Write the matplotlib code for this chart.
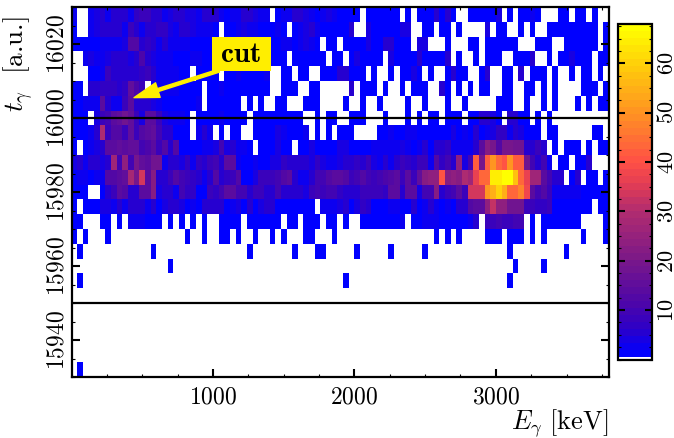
#!/usr/bin/env python3
"""E_gamma vs t_gamma matrix with the time cut, read off the published figure."""

import matplotlib
matplotlib.use('Agg')
import matplotlib.pyplot as plt
import numpy as np
from matplotlib.colors import BoundaryNorm, LinearSegmentedColormap
from matplotlib.patches import Rectangle
from matplotlib.ticker import MultipleLocator

# ---------------------------------------------------------------------
# DATA: counts per 40 keV bin, rows run from late times down, 4 a.u. wide
# ---------------------------------------------------------------------
E_EDGES = np.arange(0, 3801, 40)
T_EDGES = np.arange(16030, 15929, -4)
E_TICKS = [1000, 2000, 3000]

row_16028 = [3,0,0,3,4,5,2,6,6,6, 2,7,8,8,6,6,2,4,5,6, 4,4,3,5,6,5,3,1,2,2, 6,5,4,3,3,0,1,2,2,6, 5,4,2,1,3,4,2,
             1,1,1,1,0,1,1,1,1,1,1,0,1,0,1,1,1,5,1,6,1,0,0,1,1,1,1,1,4,0,1,0,1,1,3,1,0,0,0,1,1,0,1,1,0,1,0,0]
row_16024 = [1,0,0,2,4,6,6,5,6,3, 9,5,2,5,6,7,7,4,3,6, 6,4,3,3,2,1,0,1,1,2, 4,3,2,1,1,1,2,1,0,1, 2,4,5,3,1,1,1,
             1,1,5,0,0,4,1,1,1,1,1,4,4,0,0,1,1,0,1,1,0,1,0,0,0,0,4,0,1,1,0,0,1,0,1,0,0,1,1,1,1,1,1,1,1,1,0,1]
row_16020 = [1,1,1,1,1,3,2,3,3,4, 12,13,6,7,5,2,5,3,2,3, 2,1,1,1,1,2,2,1,1,1, 1,2,3,1,1,1,1,2,2,1, 2,4,3,1,0,1,1,
             0,1,1,1,1,4,1,1,5,5,1,1,1,0,4,4,0,0,0,1,0,0,0,1,1,0,1,1,1,1,1,1,0,0,0,1,1,1,0,0,1,1,1,1,1,1,0,1]
row_16016 = [0,0,2,4,3,3,4,5,5,6, 4,6,11,5,4,3,2,2,1,1, 1,2,2,1,1,1,1,1,1,1, 1,1,1,1,1,1,1,1,0,1, 1,1,1,1,1,0,1,
             1,0,1,4,1,1,1,1,0,4,1,1,1,1,5,1,1,1,1,5,0,1,0,0,1,0,1,1,1,0,0,1,1,1,5,0,0,1,0,1,1,4,1,1,1,0,1,1]
row_16012 = [0,0,0,1,1,2,8,6,5,6, 5,5,7,8,6,3,2,2,2,1, 1,0,1,1,1,1,0,1,1,2, 1,1,1,1,2,0,0,1,1,0, 1,1,0,0,1,1,1,
             5,5,1,1,1,0,1,0,0,1,0,1,1,4,1,0,1,0,0,1,5,1,1,0,0,1,5,0,0,1,1,0,5,0,1,1,1,0,1,0,0,1,0,1,1,0,1,0]
row_16008 = [1,1,0,5,6,7,7,7,6,7, 15,11,8,0,3,3,2,2,2,1, 1,1,1,0,1,1,2,1,1,1, 1,1,1,1,1,0,0,1,1,1, 0,0,1,1,0,0,0,
             0,0,5,0,1,1,1,0,1,0,0,1,0,1,1,1,0,0,5,1,0,1,0,1,0,1,1,0,0,1,1,0,0,1,1,0,1,0,1,0,0,0,0,1,1,1,0,1]
row_16004 = [1,1,3,3,2,14,5,3,2,8, 14,6,5,5,4,2,1,1,1,1, 1,1,2,0,1,1,1,1,1,1, 0,1,0,1,0,0,1,1,0,0, 0,1,1,1,0,0,0,
             0,1,0,0,1,0,0,1,0,0,0,0,1,0,0,1,0,0,0,1,0,0,1,0,0,0,0,0,1,1,1,0,0,1,0,0,1,0,1,0,0,0,1,0,1,0,1,1]
row_16000 = [1,1,1,0,4,8,10,14,16,18, 16,8,4,14,14,8,4,3,2,2, 1,0,1,1,1,1,2,1,1,1, 1,0,1,1,1,1,1,1,1,1, 1,0,0,1,0,1,1,
             0,0,1,1,1,0,0,0,1,0,0,0,1,0,1,0,1,1,0,1,1,1,0,1,1,5,6,4,1,0,5,5,1,1,0,1,0,1,0,0,0,0,0,0,0,0,0,0]
row_15996 = [1,1,1,3,6,30,8,12,12,8, 16,8,12,14,15,10,6,6,1,1, 1,0,2,5,3,0,1,0,1,1, 0,0,1,1,1,1,4,2,1,1, 1,2,0,1,0,1,0,
             1,1,1,0,0,0,0,1,1,3,1,1,3,2,1,1,1,1,1,1,4,1,2,1,6,1,3,4,7,7,2,5,4,1,1,1,0,1,1,0,0,0,0,0,0,1,1,0]
row_15992 = [1,0,1,3,4,6,14,14,16,14, 16,16,10,11,14,8,12,5,12,1, 1,1,1,3,3,4,10,4,6,3, 2,1,0,1,1,1,4,1,1,0, 1,1,4,1,1,1,1,
             4,4,1,1,1,1,3,3,2,3,3,4,2,1,3,5,1,6,6,7,2,2,3,3,5,14,22,20,12,20,20,18,18,6,6,8,5,0,1,0,1,1,1,0,1,0,1,1]
row_15988 = [4,5,2,6,6,4,6,26,10,24, 10,20,16,14,18,18,3,6,6,4, 7,2,7,5,8,10,6,14,14,3, 1,1,2,1,1,4,4,7,6,6, 6,6,4,7,4,3,3,
             4,6,6,7,6,8,4,3,5,3,6,9,7,5,9,9,3,12,7,10,5,24,4,10,42,20,42,50,43,40,50,42,42,18,10,5,10,2,0,1,1,0,1,1,6,0,0,0]
row_15984 = [1,3,2,1,3,3,12,12,14,16, 28,20,34,14,22,6,6,8,12,10, 8,7,6,2,5,13,6,7,8,12, 1,1,4,8,9,8,10,12,14,6, 3,2,5,10,10,12,14,
             14,12,8,10,12,10,9,10,11,13,14,9,14,8,16,22,24,24,40,22,24,22,30,26,36,44,44,64,64,68,68,58,44,36,26,26,14,10,6,6,0,1,6,0,1,1,0,1]
row_15980 = [1,1,1,0,0,1,6,8,14,12, 6,6,14,14,22,4,5,5,3,10, 7,7,1,1,9,7,10,14,14,10, 10,5,9,8,6,6,10,5,5,5, 6,4,9,10,8,10,10,
             7,6,6,5,9,9,9,8,7,14,14,6,14,14,4,10,10,22,6,8,10,14,8,34,34,34,50,54,60,54,43,43,48,38,14,10,12,8,3,3,2,2,2,1,1,1,1,1]
row_15976 = [1,0,1,1,1,4,4,3,6,2, 5,6,6,2,5,1,4,5,5,4, 1,2,1,5,5,6,6,1,3,4, 1,5,1,4,5,6,1,1,1,1, 1,1,1,0,2,2,3,
             4,6,1,4,7,6,1,1,1,3,2,1,1,6,1,2,5,3,1,3,1,5,5,12,14,14,24,32,24,24,18,18,18,8,8,7,7,8,1,1,1,1,1,1,1,0,1,1]
row_15972 = [1,1,0,0,0,1,1,0,1,0, 3,3,2,1,1,1,0,1,0,1, 0,1,0,1,0,0,1,1,1,1, 0,1,1,1,1,1,1,0,1,1, 0,1,1,1,0,1,1,
             0,1,0,0,1,1,1,1,1,1,1,3,0,1,1,2,3,3,1,1,1,1,1,2,6,0,8,8,10,8,8,10,10,0,1,0,1,1,1,1,1,1,1,0,0,0,0,1]
upper_rows = [row_16028, row_16024, row_16020, row_16016, row_16012, row_16008, row_16004, row_16000,
              row_15996, row_15992, row_15988, row_15984, row_15980, row_15976, row_15972]

# the sparse rows underneath only have single counts, listed as bin numbers
bins_15968 = [0,2,6,20,23,26,27,29,32,35,37,41,42,46,64,66,68,73,74,75,77,78,79,81,83,90,94]
bins_15964 = [1,14,31,39,43,44,50,56,62,77,87]
bins_15960 = [17,78,83]
bins_15956 = [1,48,77]
bins_15952 = []
bins_15948 = []
bins_15944 = []
bins_15940 = []
bins_15936 = []
bins_15932 = [1]
lower_rows = [bins_15968, bins_15964, bins_15960, bins_15956, bins_15952,
              bins_15948, bins_15944, bins_15940, bins_15936, bins_15932]

CUT_TIMES = [16000, 15950]

# palette as sampled from the colour bar
CBAR_VALUES = [0, 5, 10, 20, 30, 35, 40, 50, 60, 68]
CBAR_COLORS = ['#0000ff', '#2d00c8', '#4b05aa', '#7d1987', '#b42d6e', '#e13c55',
               '#ff5046', '#ff9123', '#ffcd0a', '#ffff00']

Z_MAX = 68
N_LEVELS = 48

plt.rcParams['font.family'] = ['cmr10', 'DejaVu Sans']
plt.rcParams['mathtext.fontset'] = 'cm'
plt.rcParams['axes.formatter.use_mathtext'] = True
plt.rcParams['axes.unicode_minus'] = False


def build_matrix():
    z = np.zeros((len(T_EDGES) - 1, len(E_EDGES) - 1))
    for i, row in enumerate(upper_rows):
        z[i, :] = row
    for i, bins in enumerate(lower_rows):
        z[len(upper_rows) + i, bins] = 1
    return z


def build_palette():
    pos = [v / Z_MAX for v in CBAR_VALUES]
    base = LinearSegmentedColormap.from_list('pal', list(zip(pos, CBAR_COLORS)))
    cols = [base(k / (N_LEVELS - 1)) for k in range(N_LEVELS)]
    cols.insert(0, (1, 1, 1, 1))
    bounds = np.concatenate(([0, 0.5], np.linspace(2, Z_MAX, N_LEVELS)))
    cmap = matplotlib.colors.ListedColormap(cols)
    return cmap, BoundaryNorm(bounds, cmap.N)


def main():
    w, h = 674, 438
    fig = plt.figure(figsize=(w / 100, h / 100), dpi=100)
    ax = fig.add_axes([71.5 / w, 1 - 377 / h, 537.5 / w, 370 / h])
    cax = fig.add_axes([618 / w, 1 - 359.5 / h, 33.5 / w, 335.5 / h])

    cmap, norm = build_palette()
    mesh = ax.pcolormesh(E_EDGES, T_EDGES, build_matrix(), cmap=cmap, norm=norm,
                         shading='flat', antialiased=False, rasterized=True)
    for t in CUT_TIMES:
        ax.axhline(t, color='black', linewidth=1.6, zorder=3)

    ax.set_xlim(0, 3800)
    ax.set_ylim(15930, 16030)
    ax.set_xticks(E_TICKS)
    ax.xaxis.set_minor_locator(MultipleLocator(250))
    ax.yaxis.set_major_locator(MultipleLocator(20))
    ax.yaxis.set_minor_locator(MultipleLocator(5))
    ax.tick_params(which='major', direction='in', top=True, right=True, length=6, width=1.5,
                   labelsize=17)
    ax.tick_params(which='minor', direction='in', top=True, right=True, length=2.5, width=0.8)
    ax.tick_params(axis='x', which='major', pad=7)
    ax.tick_params(axis='y', which='major', pad=2)
    plt.setp(ax.get_yticklabels(), rotation=90, va='center')
    for spine in ax.spines.values():
        spine.set_linewidth(1.6)

    ax.set_xlabel(r'$E_{\gamma}\ \mathrm{[keV]}$', fontsize=19, ha='right')
    ax.xaxis.set_label_coords(0.998, -0.082)
    ax.set_ylabel(r'$t_{\gamma}\ $ [a.u.]', fontsize=19.5, ha='right')
    ax.yaxis.set_label_coords(-0.066, 0.975)

    # yellow label box, the arrow starts at its lower edge
    ax.annotate('', xy=(442, 16005.5), xytext=(1043, 16012.8), zorder=4,
                arrowprops=dict(facecolor='#ffee00', edgecolor='#ffee00', width=2.2,
                                headwidth=11, headlength=18, shrink=0))
    ax.add_patch(Rectangle((994, 16012.8), 417, 9.2, fc='#ffee00', ec='none', zorder=5))
    ax.text(1202, 16017.0, 'cut', ha='center', va='center', fontsize=21, family='cmb10', zorder=6)

    cbar = fig.colorbar(mesh, cax=cax, spacing='proportional', ticks=np.arange(10, 61, 10))
    cbar.ax.set_ylim(0, Z_MAX)
    cbar.ax.yaxis.set_minor_locator(MultipleLocator(2.5))
    cbar.ax.tick_params(which='major', direction='in', left=True, right=True, length=5, width=1.5,
                        labelsize=16, pad=4)
    cbar.ax.tick_params(which='minor', direction='in', left=True, right=True, length=2.5, width=0.8)
    plt.setp(cbar.ax.get_yticklabels(), rotation=90, va='center')
    cbar.outline.set_linewidth(1.6)

    fig.savefig('out.png', dpi=100)
    plt.close(fig)


if __name__ == '__main__':
    main()
